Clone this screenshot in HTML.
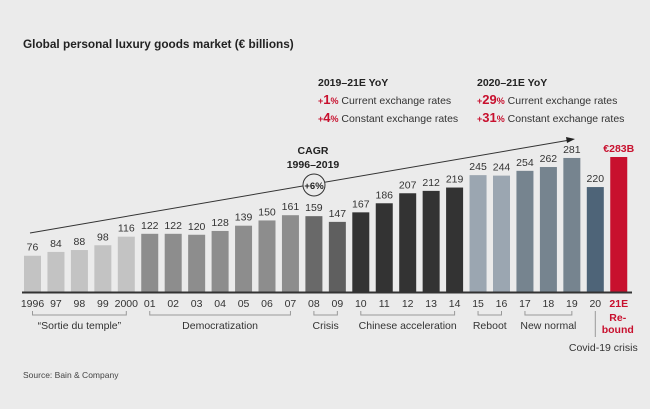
<!DOCTYPE html>
<html><head><meta charset="utf-8"><style>
body{margin:0;background:#ebebeb;}
svg{display:block;font-family:"Liberation Sans",Arial,sans-serif;}
</style></head><body>
<svg id="c" width="650" height="409" viewBox="0 0 650 409">
<rect width="650" height="409" fill="#ebebeb"/>
<text x="23" y="48" font-size="11.8" font-weight="bold" fill="#222">Global personal luxury goods market (€ billions)</text>
<g font-size="10.5" fill="#333">
<text x="318" y="86" font-weight="bold" fill="#222">2019–21E YoY</text>
<text x="318" y="104"><tspan fill="#c8102e" font-weight="bold"><tspan font-size="9">+</tspan><tspan font-size="13">1</tspan><tspan font-size="9">%</tspan></tspan> Current exchange rates</text>
<text x="318" y="122"><tspan fill="#c8102e" font-weight="bold"><tspan font-size="9">+</tspan><tspan font-size="13">4</tspan><tspan font-size="9">%</tspan></tspan> Constant exchange rates</text>
</g>
<g font-size="10.5" fill="#333">
<text x="477" y="86" font-weight="bold" fill="#222">2020–21E YoY</text>
<text x="477" y="104"><tspan fill="#c8102e" font-weight="bold"><tspan font-size="9">+</tspan><tspan font-size="13">29</tspan><tspan font-size="9">%</tspan></tspan> Current exchange rates</text>
<text x="477" y="122"><tspan fill="#c8102e" font-weight="bold"><tspan font-size="9">+</tspan><tspan font-size="13">31</tspan><tspan font-size="9">%</tspan></tspan> Constant exchange rates</text>
</g>
<g>
<line x1="30" y1="233" x2="570" y2="140" stroke="#333" stroke-width="1"/>
<polygon points="575,139 566,137 567,143" fill="#222"/>
<circle cx="314" cy="185" r="11" fill="#ebebeb" stroke="#333" stroke-width="1"/>
<text x="314" y="189" font-size="9.5" font-weight="bold" text-anchor="middle" fill="#222">+6%</text>
<text x="313" y="154" font-size="10.5" font-weight="bold" text-anchor="middle" fill="#222">CAGR</text>
<text x="313" y="168" font-size="10.5" font-weight="bold" text-anchor="middle" fill="#222">1996–2019</text>
</g>
<g id="bars"></g>
<line x1="22" y1="292.5" x2="632" y2="292.5" stroke="#333" stroke-width="2"/>
<g id="labels"></g>
<g id="groups" font-size="10.5" fill="#333"></g>
<text x="23" y="378" font-size="8.5" fill="#444">Source: Bain &amp; Company</text>
</svg>
<script>
const categories=["1996","97","98","99","2000","01","02","03","04","05","06","07","08","09","10","11","12","13","14","15","16","17","18","19","20","21E"];
const values=[76,84,88,98,116,122,122,120,128,139,150,161,159,147,167,186,207,212,219,245,244,254,262,281,220,283];
const valueLabels=["76","84","88","98","116","122","122","120","128","139","150","161","159","147","167","186","207","212","219","245","244","254","262","281","220","€283B"];
const colors=["#c3c3c3","#c3c3c3","#c3c3c3","#c3c3c3","#c3c3c3","#8d8d8d","#8d8d8d","#8d8d8d","#8d8d8d","#8d8d8d","#8d8d8d","#8d8d8d","#696969","#5f5f5f","#333","#333","#333","#333","#333","#9ba6b1","#9ba6b1","#76848f","#76848f","#76848f","#4e6478","#c8102e"];
const groups=[["“Sortie du temple”",0,4],["Democratization",5,11],["Crisis",12,13],["Chinese acceleration",14,18],["Reboot",19,20],["New normal",21,23]];
const NS="http://www.w3.org/2000/svg";
const x0=24,pitch=23.45,bw=17,base=292,k=0.477;
const xs=i=>x0+i*pitch, ys=v=>base-v*k;
function mk(t,a,p){const e=document.createElementNS(NS,t);for(const n in a)e.setAttribute(n,a[n]);p.appendChild(e);return e;}
const gb=document.getElementById('bars'),gl=document.getElementById('labels'),gg=document.getElementById('groups');
categories.forEach((c,i)=>{
 const v=values[i];const red=i===25;
 const r=mk('rect',{x:xs(i),y:ys(v),width:bw,height:base-ys(v),fill:colors[i]},gb);
 
 
 const t=mk('text',{x:xs(i)+bw/2,y:ys(v)-5,'font-size':10.5,'font-weight':red?'bold':'normal','text-anchor':'middle',fill:red?'#c8102e':'#333'},gl);
 t.textContent=valueLabels[i];
 
 
 const xt=mk('text',{x:xs(i)+bw/2,y:307,'font-size':10.5,'font-weight':red?'bold':'normal','text-anchor':'middle',fill:red?'#c8102e':'#333'},gl);
 xt.textContent=c;
 
 
});
groups.forEach(g=>{
 const a=xs(g[1])+bw/2,b=xs(g[2])+bw/2;
 const p=mk('path',{d:`M${a},311V315H${b}V311`,fill:'none',stroke:'#999','stroke-width':1},gg);
 
 
 const t=mk('text',{x:(a+b)/2,y:329,'text-anchor':'middle'},gg);
 t.textContent=g[0];
 
 
});
const cx=xs(24)+bw/2;
const cl=mk('line',{x1:cx,y1:311,x2:cx,y2:337,stroke:'#999','stroke-width':1},gg);


const ct=mk('text',{x:cx+8,y:351,'text-anchor':'middle'},gg);
ct.textContent='Covid-19 crisis';


const rx=xs(25)+bw/2-1;
const r1=mk('text',{x:rx,y:321,'text-anchor':'middle',fill:'#c8102e','font-weight':'bold'},gg);
r1.textContent='Re-';


const r2=mk('text',{x:rx,y:333,'text-anchor':'middle',fill:'#c8102e','font-weight':'bold'},gg);
r2.textContent='bound';


</script>
</body></html>
